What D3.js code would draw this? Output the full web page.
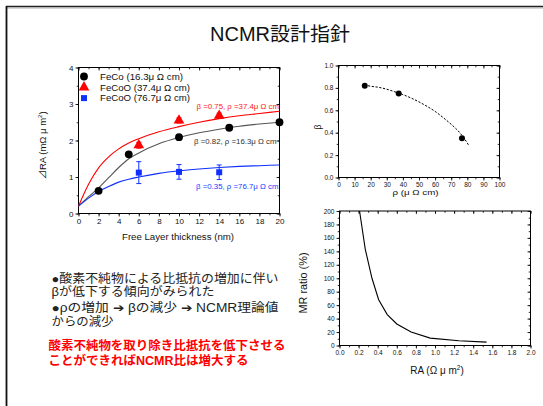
<!DOCTYPE html>
<html>
<head>
<meta charset="utf-8">
<script src="https://cdn.jsdelivr.net/npm/d3@7"></script>
<style>
  html, body { margin: 0; padding: 0; background: #fff; }
  svg { display: block; }
  text { font-family: "Liberation Sans", "Noto Sans CJK JP", sans-serif; }
</style>
</head>
<body>
<svg id="slide" width="543" height="406"></svg>
<script>
// ---- ΔRA vs free layer thickness ----
const thickFeCo = [2, 5, 10, 15, 20];
const draFeCo = [0.62, 1.62, 2.09, 2.35, 2.5];
const errFeCo = [0.05, 0.05, 0.05, 0.06, 0.06];

const thickFeCoO37 = [6, 10, 14];
const draFeCoO37 = [1.87, 2.55, 2.68];
const errFeCoO37 = [0.08, 0.07, 0.07];

const thickFeCoO76 = [6, 10, 14];
const draFeCoO76 = [1.12, 1.14, 1.13];
const errFeCoO76 = [0.3, 0.2, 0.2];

// fitted curves
const fitThick = [0, 1, 2, 3, 4, 5, 6, 8, 10, 12, 14, 16, 18, 20];
const fitFeCo  = [0.2, 0.46, 0.7, 0.98, 1.26, 1.5, 1.66, 1.91, 2.08, 2.21, 2.31, 2.39, 2.45, 2.5];
const fitO37   = [0.2, 0.8, 1.25, 1.55, 1.77, 1.93, 2.05, 2.24, 2.38, 2.5, 2.6, 2.68, 2.74, 2.8];
const fitO76   = [0.2, 0.42, 0.6, 0.74, 0.86, 0.94, 1.0, 1.1, 1.17, 1.22, 1.26, 1.29, 1.31, 1.33];

const legendLabels = ["FeCo (16.3μ Ω cm)", "FeCoO (37.4μ Ω cm)", "FeCoO (76.7μ Ω cm)"];
const fitLabels = ["β =0.82, ρ =16.3μ Ω cm", "β =0.75, ρ =37.4μ Ω cm", "β =0.35, ρ =76.7μ Ω cm"];
const thickTicks = [0, 2, 4, 6, 8, 10, 12, 14, 16, 18, 20];
const draTicks = [0, 1, 2, 3, 4];

// ---- β vs ρ ----
const rhoPoints = [16.3, 37.4, 76.7];
const betaPoints = [0.82, 0.75, 0.35];
const rhoTrend = [16, 20, 25, 30, 35, 40, 45, 50, 55, 60, 65, 70, 75, 78, 81];
const betaTrend = [0.825, 0.815, 0.805, 0.788, 0.765, 0.74, 0.71, 0.675, 0.635, 0.59, 0.535, 0.475, 0.405, 0.35, 0.285];
const rhoTicks = [0, 10, 20, 30, 40, 50, 60, 70, 80, 90, 100];
const betaTicks = [0.0, 0.2, 0.4, 0.6, 0.8, 1.0];

// ---- MR ratio vs RA ----
const raValues = [0.21, 0.27, 0.34, 0.41, 0.5, 0.6, 0.75, 0.95, 1.25, 1.54];
const mrValues = [200, 143, 100, 68, 46, 32, 20, 11, 7, 5];
const raTicks = [0.0, 0.2, 0.4, 0.6, 0.8, 1.0, 1.2, 1.4, 1.6, 1.8, 2.0];
const mrTicks = [0, 20, 40, 60, 80, 100, 120, 140, 160, 180, 200];

// ---- slide text ----
const slideTitle = "NCMR設計指針";
const bodyLines = ["●酸素不純物による比抵抗の増加に伴い", "βが低下する傾向がみられた", "●ρの増加 ➔ βの減少 ➔ NCMR理論値", "からの減少"];
const emphasisLines = ["酸素不純物を取り除き比抵抗を低下させる", "ことができればNCMR比は増大する"];

const svg = d3.select("#slide");
const chartFont = "'Liberation Sans', 'Noto Sans CJK JP', sans-serif";

// slide frame
svg.append("line").attr("x1", 6).attr("x2", 543).attr("y1", 6.5).attr("y2", 6.5)
  .attr("stroke", "#222").attr("stroke-width", 1.6);
svg.append("line").attr("x1", 6).attr("x2", 543).attr("y1", 8).attr("y2", 8)
  .attr("stroke", "#999").attr("stroke-width", 0.8);
svg.append("line").attr("x1", 6.5).attr("x2", 6.5).attr("y1", 6).attr("y2", 406)
  .attr("stroke", "#111").attr("stroke-width", 1.8);

svg.append("text").attr("x", 280).attr("y", 41).attr("text-anchor", "middle")
  .attr("font-size", 19.5).attr("fill", "#111")
  .attr("textLength", 140).attr("lengthAdjust", "spacingAndGlyphs").text(slideTitle);

// framed plot with outward ticks on bottom/left and inward mirror ticks on top/right
function framePlot(x, y, o) {
  const g = svg.append("g");
  const [x0, x1] = x.range(), [y0, y1] = y.range();
  const tickStyle = sel => {
    sel.select(".domain").remove();
    sel.selectAll("line").attr("stroke", "#000").attr("stroke-width", 0.8);
    sel.selectAll("text").attr("font-size", o.tickFont).attr("fill", "#111")
      .attr("font-family", chartFont);
  };
  g.append("g").attr("transform", `translate(0,${y0})`)
    .call(d3.axisBottom(x).tickValues(o.xTicks).tickFormat(o.xFmt).tickSize(3).tickPadding(2))
    .call(tickStyle);
  g.append("g").attr("transform", `translate(0,${y0})`)
    .call(d3.axisBottom(x).tickValues(o.xMinor).tickFormat("").tickSize(1.8)).call(tickStyle);
  g.append("g").attr("transform", `translate(${x0},0)`)
    .call(d3.axisLeft(y).tickValues(o.yTicks).tickFormat(o.yFmt).tickSize(3).tickPadding(2))
    .call(tickStyle);
  g.append("g").attr("transform", `translate(${x0},0)`)
    .call(d3.axisLeft(y).tickValues(o.yMinor).tickFormat("").tickSize(1.8)).call(tickStyle);
  if (o.mirror) {
    g.append("g").attr("transform", `translate(0,${y1})`)
      .call(d3.axisBottom(x).tickValues(o.xTicks).tickFormat("").tickSize(3)).call(tickStyle);
    g.append("g").attr("transform", `translate(0,${y1})`)
      .call(d3.axisBottom(x).tickValues(o.xMinor).tickFormat("").tickSize(1.8)).call(tickStyle);
    g.append("g").attr("transform", `translate(${x1},0)`)
      .call(d3.axisLeft(y).tickValues(o.yTicks).tickFormat("").tickSize(3)).call(tickStyle);
    g.append("g").attr("transform", `translate(${x1},0)`)
      .call(d3.axisLeft(y).tickValues(o.yMinor).tickFormat("").tickSize(1.8)).call(tickStyle);
  }
  g.append("rect").attr("x", x0).attr("y", y1).attr("width", x1 - x0).attr("height", y0 - y1)
    .attr("fill", "none").attr("stroke", "#000").attr("stroke-width", 1);
  return g;
}

function range(a, b, s) { return d3.range(a, b + s / 2, s).map(v => +v.toFixed(6)); }

// ===== Chart 1: ΔRA vs thickness =====
{
  const x = d3.scaleLinear().domain([0, 20]).range([78.5, 279.5]);
  const y = d3.scaleLinear().domain([0, 4]).range([213.5, 67.5]);
  framePlot(x, y, {
    xTicks: thickTicks, xMinor: range(0, 20, 1), xFmt: d3.format("d"),
    yTicks: draTicks, yMinor: range(0, 4, 0.5), yFmt: d3.format("d"),
    tickFont: 8, mirror: true
  });

  const line = d3.line().x(d => x(d[0])).y(d => y(d[1])).curve(d3.curveMonotoneX);
  const fits = [
    { v: fitFeCo, c: "#555" }, { v: fitO37, c: "#ff0000" }, { v: fitO76, c: "#1030ff" }
  ];
  fits.forEach(f => {
    svg.append("path").datum(fitThick.map((t, i) => [t, f.v[i]]))
      .attr("d", line).attr("fill", "none").attr("stroke", f.c).attr("stroke-width", 1.1);
  });

  const errBars = (xs, ys, es, color) => {
    xs.forEach((t, i) => {
      const cx = x(t), top = y(ys[i] + es[i]), bot = y(ys[i] - es[i]);
      svg.append("line").attr("x1", cx).attr("x2", cx).attr("y1", top).attr("y2", bot)
        .attr("stroke", color).attr("stroke-width", 1);
      [top, bot].forEach(yy => svg.append("line").attr("x1", cx - 2.5).attr("x2", cx + 2.5)
        .attr("y1", yy).attr("y2", yy).attr("stroke", color).attr("stroke-width", 1));
    });
  };
  errBars(thickFeCo, draFeCo, errFeCo, "#000");
  errBars(thickFeCoO37, draFeCoO37, errFeCoO37, "#ff0000");
  errBars(thickFeCoO76, draFeCoO76, errFeCoO76, "#1030ff");

  const circle = d3.symbol().type(d3.symbolCircle).size(48);
  const tri = d3.symbol().type(d3.symbolTriangle).size(50);
  const sq = d3.symbol().type(d3.symbolSquare).size(36);
  thickFeCo.forEach((t, i) => svg.append("path").attr("d", circle)
    .attr("transform", `translate(${x(t)},${y(draFeCo[i])})`).attr("fill", "#000"));
  thickFeCoO37.forEach((t, i) => svg.append("path").attr("d", tri)
    .attr("transform", `translate(${x(t)},${y(draFeCoO37[i])})`).attr("fill", "#ff0000"));
  thickFeCoO76.forEach((t, i) => svg.append("path").attr("d", sq)
    .attr("transform", `translate(${x(t)},${y(draFeCoO76[i])})`).attr("fill", "#1030ff"));

  // legend
  const legendSym = [[circle, "#000"], [tri, "#ff0000"], [sq, "#1030ff"]];
  const legendW = [83, 90, 90];
  legendLabels.forEach((lab, i) => {
    const ly = 76.5 + i * 10.8;
    svg.append("path").attr("d", legendSym[i][0]).attr("fill", legendSym[i][1])
      .attr("transform", `translate(84,${ly})`);
    svg.append("text").attr("x", 100).attr("y", ly + 3.2).attr("font-size", 9)
      .attr("fill", "#111").attr("font-family", chartFont)
      .attr("textLength", legendW[i]).attr("lengthAdjust", "spacingAndGlyphs").text(lab);
  });

  // fit annotations
  const annot = [
    { t: fitLabels[1], x: 196.5, y: 109, c: "#ff2020" },
    { t: fitLabels[0], x: 194, y: 143.5, c: "#333" },
    { t: fitLabels[2], x: 196, y: 189, c: "#2040ff" }
  ];
  annot.forEach(a => svg.append("text").attr("x", a.x).attr("y", a.y).attr("font-size", 7)
    .attr("fill", a.c).attr("font-family", chartFont)
    .attr("textLength", 82.5).attr("lengthAdjust", "spacingAndGlyphs").text(a.t));

  svg.append("text").attr("x", 178).attr("y", 239.5).attr("text-anchor", "middle")
    .attr("font-size", 8.5).attr("fill", "#111").attr("font-family", chartFont)
    .attr("textLength", 112).attr("lengthAdjust", "spacingAndGlyphs")
    .text("Free Layer thickness (nm)");

  const yt = svg.append("text").attr("transform", "translate(46,145.5) rotate(-90)")
    .attr("text-anchor", "middle").attr("font-size", 9.5).attr("fill", "#111")
    .attr("font-family", chartFont);
  yt.append("tspan").text("⊿RA (mΩ μ m");
  yt.append("tspan").attr("font-size", 6).attr("dy", -4).text("2");
  yt.append("tspan").attr("dy", 4).text(")");
}

// ===== Chart 2: β vs ρ =====
{
  const x = d3.scaleLinear().domain([0, 100]).range([338.5, 499.5]);
  const y = d3.scaleLinear().domain([0, 1]).range([177.5, 65.5]);
  framePlot(x, y, {
    xTicks: rhoTicks, xMinor: range(0, 100, 5), xFmt: d3.format("d"),
    yTicks: betaTicks, yMinor: range(0, 1, 0.1), yFmt: d3.format(".1f"),
    tickFont: 6.5, mirror: true
  });
  svg.append("path").datum(rhoTrend.map((r, i) => [r, betaTrend[i]]))
    .attr("d", d3.line().x(d => x(d[0])).y(d => y(d[1])).curve(d3.curveMonotoneX))
    .attr("fill", "none").attr("stroke", "#000").attr("stroke-width", 1)
    .attr("stroke-dasharray", "2.2,1.6");
  rhoPoints.forEach((r, i) => svg.append("circle").attr("cx", x(r)).attr("cy", y(betaPoints[i]))
    .attr("r", 3).attr("fill", "#000"));
  svg.append("text").attr("x", 415.5).attr("y", 194.5).attr("text-anchor", "middle")
    .attr("font-size", 8).attr("fill", "#111").attr("font-family", chartFont)
    .attr("textLength", 46).attr("lengthAdjust", "spacingAndGlyphs").text("ρ (μ Ω cm)");
  svg.append("text").attr("transform", "translate(320.5,127) rotate(-90)")
    .attr("text-anchor", "middle").attr("font-size", 8.5).attr("fill", "#111")
    .attr("font-family", chartFont).text("β");
}

// ===== Chart 3: MR ratio vs RA =====
{
  const x = d3.scaleLinear().domain([0, 2]).range([339.5, 530.5]);
  const y = d3.scaleLinear().domain([0, 200]).range([345.5, 211]);
  framePlot(x, y, {
    xTicks: raTicks, xMinor: range(0, 2, 0.1), xFmt: d3.format(".1f"),
    yTicks: mrTicks, yMinor: range(0, 200, 10), yFmt: d3.format("d"),
    tickFont: 6.5, mirror: true
  });
  svg.append("path").datum(raValues.map((r, i) => [r, mrValues[i]]))
    .attr("d", d3.line().x(d => x(d[0])).y(d => y(d[1])).curve(d3.curveLinear))
    .attr("fill", "none").attr("stroke", "#000").attr("stroke-width", 1.1);
  const xt = svg.append("text").attr("x", 437).attr("y", 374).attr("text-anchor", "middle")
    .attr("font-size", 10).attr("fill", "#111").attr("font-family", chartFont);
  xt.append("tspan").text("RA (Ω μ m");
  xt.append("tspan").attr("font-size", 6.5).attr("dy", -4).text("2");
  xt.append("tspan").attr("dy", 4).text(")");
  svg.append("text").attr("transform", "translate(307,283) rotate(-90)")
    .attr("text-anchor", "middle").attr("font-size", 10.5).attr("fill", "#111")
    .attr("font-family", chartFont).attr("textLength", 61)
    .attr("lengthAdjust", "spacingAndGlyphs").text("MR ratio (%)");
}

// ===== slide body text =====
const bodyY = [282.5, 296, 312, 325.5];
const bodyW = [227, 163, 227, 62];
bodyLines.forEach((t, i) => {
  svg.append("text").attr("x", 51.5).attr("y", bodyY[i]).attr("font-size", 12)
    .attr("fill", "#222").attr("font-family", "'Noto Sans CJK JP', sans-serif")
    .attr("textLength", bodyW[i]).attr("lengthAdjust", "spacingAndGlyphs").text(t);
});
const emY = [349.5, 365];
const emW = [237, 200];
emphasisLines.forEach((t, i) => {
  svg.append("text").attr("x", 48.5).attr("y", emY[i]).attr("font-size", 12)
    .attr("font-weight", "bold").attr("fill", "#ff0000")
    .attr("font-family", "'Noto Sans CJK JP', sans-serif")
    .attr("textLength", emW[i]).attr("lengthAdjust", "spacingAndGlyphs").text(t);
});
</script>
</body>
</html>
